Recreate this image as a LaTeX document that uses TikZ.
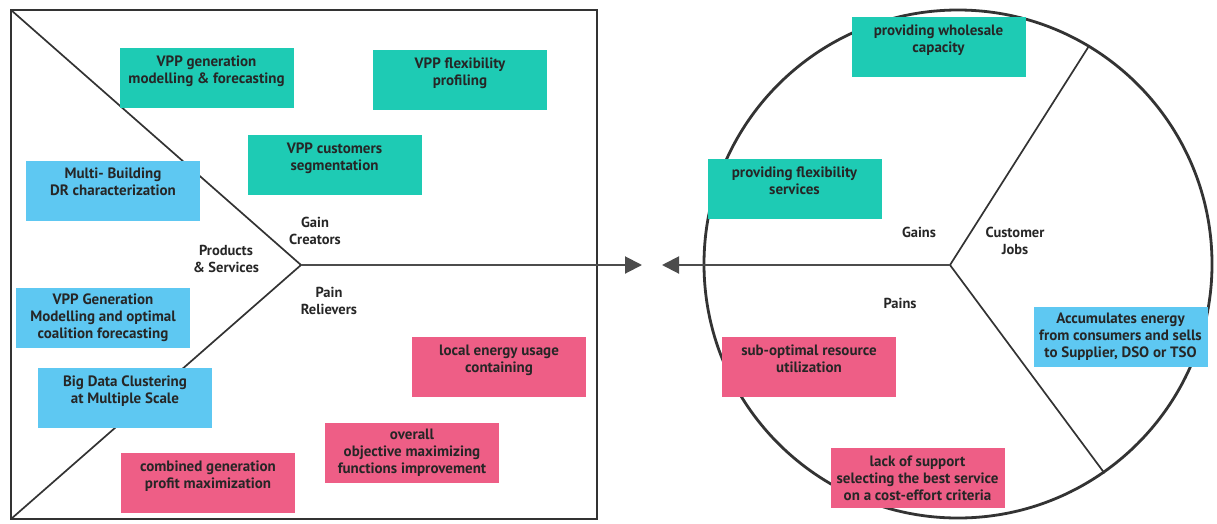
\documentclass[tikz,border=0pt]{standalone}
\usepackage{fontspec}
\setmainfont{PT Sans}
\usetikzlibrary{arrows.meta}
\definecolor{teal1}{HTML}{1ECBB4}
\definecolor{blue1}{HTML}{5EC8F2}
\definecolor{pink1}{HTML}{EE5E86}
\definecolor{ink}{HTML}{333333}
\tikzset{
  card/.style={minimum width=174pt, minimum height=60pt, inner sep=0pt, align=center,
    font=\bfseries\fontsize{15}{17}\selectfont, text=black!85},
  gaincard/.style={card, fill=teal1},
  jobcard/.style={card, fill=blue1},
  paincard/.style={card, fill=pink1},
  lbl/.style={align=center, inner sep=0pt, font=\bfseries\fontsize{14.5}{17}\selectfont, text=black!85},
  frameline/.style={draw=ink, line width=2.8pt},
  divline/.style={draw=ink, line width=1.7pt},
  conn/.style={draw=black!70, line width=2pt, -{Triangle[length=17pt,width=17pt]}, shorten >=0pt},
}
\begin{document}
\begin{tikzpicture}[x=1pt,y=-1pt]
\useasboundingbox (0,0) rectangle (1217,523);
% value proposition frame
\coordinate (TL) at (11,10);
\coordinate (BL) at (11,519);
\coordinate (BR) at (597,519);
\coordinate (TR) at (597,10);
\coordinate (apex) at (301,265);
\coordinate (tipR) at (642,265);
\coordinate (tipL) at (662,265);
\coordinate (hub) at (950,265);
\draw[frameline] (TL) -- (TR) -- (BR) -- (BL) -- cycle;
\draw[divline] (TL) -- (apex) -- (BL);
% customer profile circle
\node[circle, draw=ink, line width=2.8pt, minimum size=508pt, inner sep=0pt] (cust) at (958,264) {};
\draw[divline] (hub) -- (cust.59.5);
\draw[divline] (hub) -- (cust.-55.4);
% connectors
\draw[conn] (apex) -- (tipR);
\draw[conn] (hub) -- (tipL);
% labels
\node[lbl] (gc) at (315,231) {Gain\\Creators};
\node[lbl] (ps) at (226,259) {Products\\\& Services};
\node[lbl] (pr) at (329,301) {Pain\\Relievers};
\node[lbl] (gains) at (919,232) {Gains};
\node[lbl] (jobs) at (1015,241) {Customer\\Jobs};
\node[lbl] (pains) at (900,303) {Pains};
% left cards
\node[gaincard] (g1) at (206.5,78) {VPP generation\\modelling \& forecasting\\\mbox{}};
\node[gaincard] (g2) at (460,80) {VPP flexibility\\profiling\\\mbox{}};
\node[gaincard] (g3) at (334.5,165) {VPP customers\\segmentation\\\mbox{}};
\node[jobcard] (p1) at (113,190.5) {Multi- Building\\DR characterization\\\mbox{}};
\node[jobcard] (p2) at (103,318) {VPP Generation\\Modelling and optimal\\coalition forecasting};
\node[jobcard] (p3) at (125,398) {Big Data Clustering\\at Multiple Scale\\\mbox{}};
\node[paincard] (r1) at (499,367) {local energy usage\\containing\\\mbox{}};
\node[paincard] (r2) at (412,453) {overall\\objective maximizing\\functions improvement};
\node[paincard] (r3) at (208,483) {combined generation\\profit maximization\\\mbox{}};
% right cards
\node[gaincard] (c1) at (938.5,47) {providing wholesale\\capacity\\\mbox{}};
\node[gaincard] (c2) at (794.5,189) {providing flexibility\\services\\\mbox{}};
\node[jobcard] (c3) at (1120.5,337) {Accumulates energy\\from consumers and sells\\to Supplier, DSO or TSO};
\node[paincard] (c4) at (809,367) {sub-optimal resource\\utilization\\\mbox{}};
\node[paincard] (c5) at (917.5,478) {lack of support\\selecting the best service\\on a cost-effort criteria};
\end{tikzpicture}
\end{document}
